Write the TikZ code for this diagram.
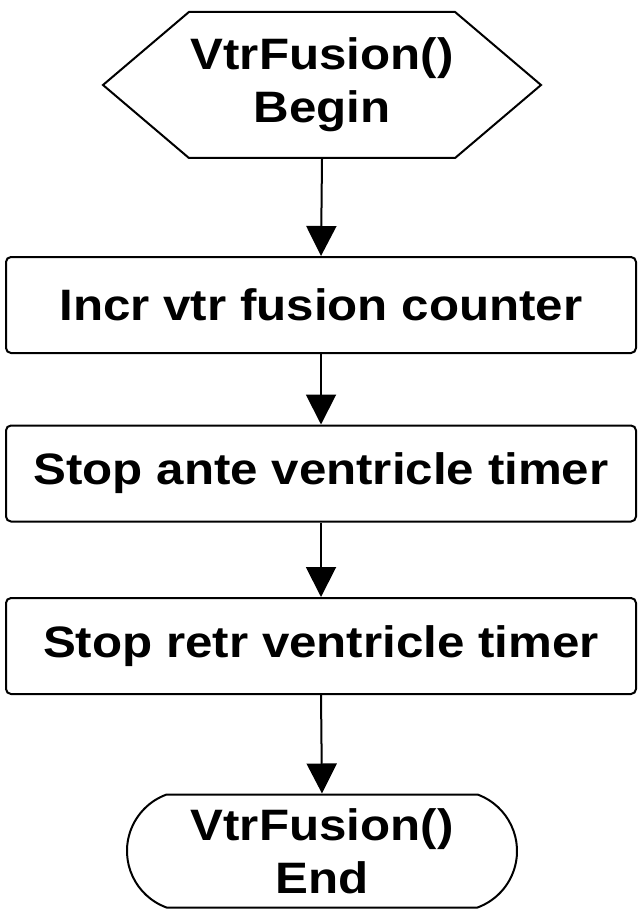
\documentclass[tikz,border=0pt]{standalone}
\usepackage{fontspec}
\setmainfont[FakeStretch = 1.12]{Liberation Sans}
\usetikzlibrary{arrows.meta,shapes.symbols,shapes.misc}

\tikzset{
	chartfont/.style = {font = \fontsize{44}{53}\selectfont\bfseries, align = center},
	beginbox/.style = {chartfont, draw, line width = 2pt, signal, signal to = east and west, signal pointer angle = 80.7, minimum width = 438pt, minimum height = 146pt, inner sep = 0pt},
	stepbox/.style = {chartfont, draw, line width = 2pt, rounded corners = 5pt, minimum width = 630pt, minimum height = 96pt, inner sep = 0pt},
	endbox/.style = {chartfont, draw, line width = 2pt, rounded rectangle, rounded rectangle arc length = 140, minimum width = 390pt, minimum height = 113pt, inner sep = 0pt},
	flow/.style = {line width = 2pt, -{Triangle[width = 30pt, length = 30pt]}}
}

\begin{document}
\begin{tikzpicture}
	 \useasboundingbox (0, 0) rectangle (638pt, -912pt);
	 
	 \node[beginbox] (begin) at (322pt, -85pt) {VtrFusion()\\Begin};
	 \node[stepbox] (incr) at (321pt, -305pt) {Incr vtr fusion counter};
	 \node[stepbox] (ante) at (321pt, -473.5pt) {Stop ante ventricle timer};
	 \node[stepbox] (retr) at (321pt, -646pt) {Stop retr ventricle timer};
	 \node[endbox] (end) at (322pt, -851pt) {VtrFusion()\\End};
	 
	 \draw[flow] (begin.south) -- (incr.north);
	 \draw[flow] (incr.south) -- (ante.north);
	 \draw[flow] (ante.south) -- (retr.north);
	 \draw[flow] (retr.south) -- (end.north);
\end{tikzpicture}
\end{document}
